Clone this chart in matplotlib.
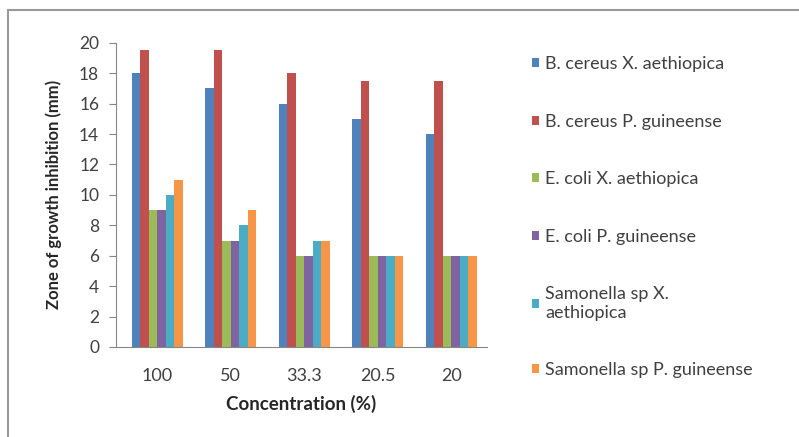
import numpy as np
import matplotlib.pyplot as plt
from matplotlib.lines import Line2D

plt.rcParams['font.family'] = ['Lato', 'DejaVu Sans']

concentrations = ["100", "50", "33.3", "20.5", "20"]
series_names = [
    "B. cereus X. aethiopica",
    "B. cereus P. guineense",
    "E. coli X. aethiopica",
    "E. coli P. guineense",
    "Samonella sp X.\naethiopica",
    "Samonella sp P. guineense",
]
bc_xa = [18, 17, 16, 15, 14]
bc_pg = [19.5, 19.5, 18, 17.5, 17.5]
ec_xa = [9, 7, 6, 6, 6]
ec_pg = [9, 7, 6, 6, 6]
sa_xa = [10, 8, 7, 6, 6]
sa_pg = [11, 9, 7, 6, 6]
colors = ["#4F81BD", "#C0504D", "#9BBB59", "#8064A2", "#4BACC6", "#F79646"]

values = [bc_xa, bc_pg, ec_xa, ec_pg, sa_xa, sa_pg]

fig = plt.figure(figsize=(7.99, 4.37), dpi=100)
ax = fig.add_axes([0.145, 0.206, 0.465, 0.696])

x = np.arange(len(concentrations))
w = 0.116
for i, (vals, col, name) in enumerate(zip(values, colors, series_names)):
    ax.bar(x + (i - 2.5) * w, vals, width=w, color=col, label=name)

ax.set_xlim(-0.565, len(concentrations) - 0.51)
ax.set_ylim(0, 20)
ax.set_yticks(range(0, 21, 2))
ax.set_xticks(x)
ax.set_xticklabels(concentrations)
for s in ["top", "right"]:
    ax.spines[s].set_visible(False)
for s in ["left", "bottom"]:
    ax.spines[s].set_color("#868686")
ax.tick_params(axis="y", length=5, color="#868686", labelsize=12.5, pad=7, labelcolor="#404040")
ax.tick_params(axis="x", length=0, labelsize=13, pad=15, labelcolor="#404040")
ax.set_ylabel("Zone of growth inhibition (mm)", fontsize=12, fontweight="bold",
              labelpad=12, color="#262626")
ax.set_xlabel("Concentration (%)", fontsize=13.5, fontweight="bold", labelpad=8,
              color="#262626")

ax.legend(loc="upper left", bbox_to_anchor=(1.10, 0.98), frameon=False,
          fontsize=13, labelspacing=2.3, handlelength=0.4, handleheight=0.4,
          handletextpad=0.35, labelcolor="#404040", borderaxespad=0)

# outer chart border (top and left edges visible)
fig.add_artist(Line2D([0.01, 0.01], [0.0, 0.977], transform=fig.transFigure,
                      color="#999999", lw=1.5))
fig.add_artist(Line2D([0.01, 1.0], [0.977, 0.977], transform=fig.transFigure,
                      color="#999999", lw=1.5))

fig.savefig("out.png", dpi=100)
